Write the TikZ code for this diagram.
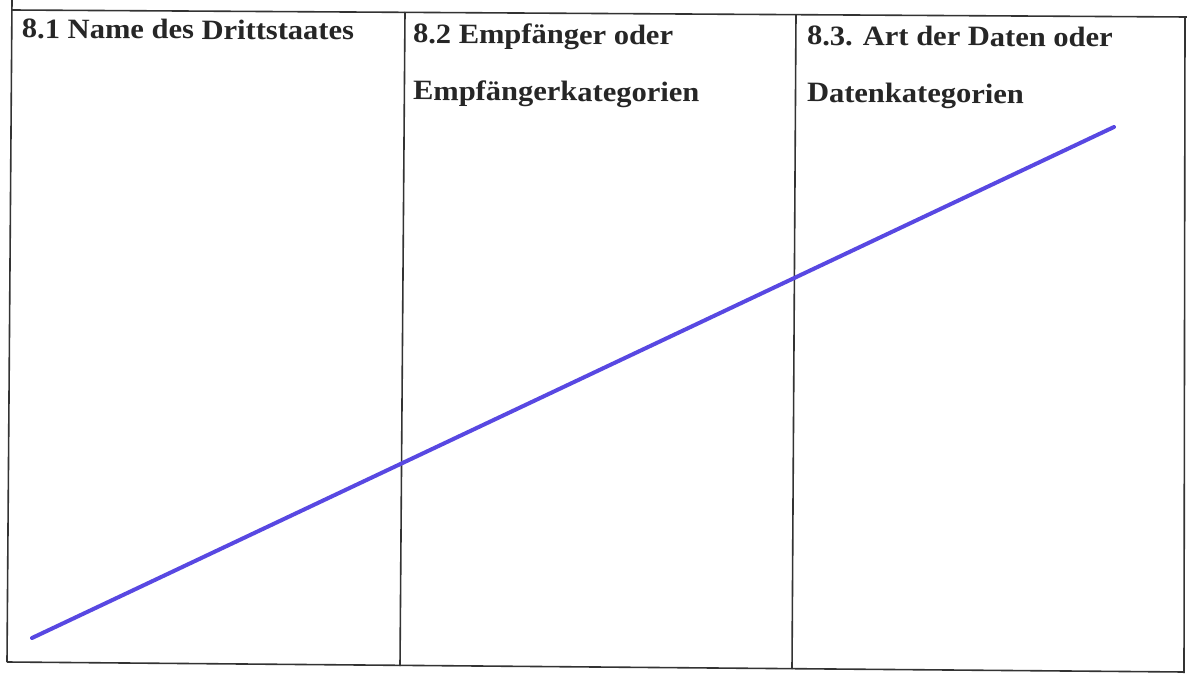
\documentclass[tikz,border=0pt]{standalone}
\usepackage{fontspec}
\setmainfont{Liberation Serif}
\begin{document}
\begin{tikzpicture}[x=1bp,y=-1bp,
  rule/.style={draw=black!80, line width=1.6bp},
  head/.style={anchor=base west, inner sep=0pt, outer sep=0pt, rotate=-0.35,
    font=\fontsize{30.5bp}{36bp}\selectfont\bfseries, text=black!85},
  pen/.style={draw={rgb,255:red,88;green,72;blue,226}, line width=4bp, line cap=round}]
\useasboundingbox (0,0) rectangle (1187,675);
\fill[white] (0,0) rectangle (1187,675);
% table corners
\coordinate (lt) at (12,0);
\coordinate (tl) at (12,10);
\coordinate (tr) at (1187,17);
\coordinate (rt) at (1185,17);
\coordinate (rb) at (1184,673);
\coordinate (bl) at (7,662);
\coordinate (br) at (1184,672);
\coordinate (c1t) at (405,12);
\coordinate (c1b) at (400,666);
\coordinate (c2t) at (796,14.5);
\coordinate (c2b) at (792,669);
% rules
\draw[rule] (tl) -- (tr);
\draw[rule] (bl) -- (br);
\draw[rule] (lt) -- (bl);
\draw[rule] (rt) -- (rb);
\draw[rule] (c1t) -- (c1b);
\draw[rule] (c2t) -- (c2b);
% headings
\node[head] (h1) at (22,38) {\scalebox{1}[0.92]{8.1 Name des Drittstaates}};
\node[head] (h2a) at (413,43) {\scalebox{1}[0.92]{8.2 Empfänger oder}};
\node[head] (h2b) at (413,100) {\scalebox{1}[0.92]{Empfängerkategorien}};
\node[head] (h3a) at (807,45) {\scalebox{1}[0.92]{8.3. Art der Daten oder}};
\node[head] (h3b) at (807,102) {\scalebox{1}[0.92]{Datenkategorien}};
% blue stroke
\coordinate (p1) at (32,638);
\coordinate (p2) at (1114,127);
\draw[pen] (p1) -- (p2);
\end{tikzpicture}
\end{document}
